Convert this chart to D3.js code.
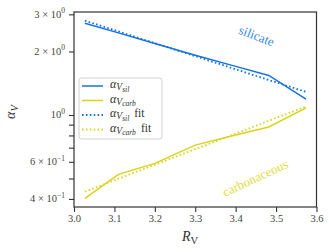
<!DOCTYPE html>
<html><head><meta charset="utf-8">
<script src="https://cdn.jsdelivr.net/npm/d3@7"></script>
<style>body{margin:0;background:#fff}svg{display:block}</style>
</head><body>
<svg id="c" width="329" height="252" font-family="Liberation Serif"></svg>
<script>
const RV = [3.027, 3.11, 3.2, 3.3, 3.4, 3.482, 3.574];
const silicate = [2.72, 2.45, 2.18, 1.92, 1.70, 1.54, 1.19];
const silicateFit = [2.80, 2.49, 2.19, 1.90, 1.647, 1.465, 1.287];
const carbon = [0.403, 0.523, 0.590, 0.72, 0.803, 0.877, 1.08];
const carbonFit = [0.433, 0.499, 0.581, 0.689, 0.816, 0.939, 1.096];
const xTicks = [3.0, 3.1, 3.2, 3.3, 3.4, 3.5, 3.6];
const yMinorTicks = [0.4, 0.5, 0.6, 0.7, 0.8, 0.9, 2, 3];
const yMajorTicks = [1];
const yLabels = [[3, "3", "0"], [2, "2", "0"], [1, null, "0"], [0.6, "6", "−1"], [0.4, "4", "−1"]];

const BLUE = "#1472e2", YEL = "#d9d31c";
const FONT = "Liberation Serif";
const L = 74, R = 316.5, T = 12, B = 207;
const svg = d3.select("#c");
const x = d3.scaleLinear().domain([3.0, 3.6]).range([L, R]);
const y = d3.scaleLog().domain([0.3664, 3.077]).range([B, T]);

const line = d3.line().x(d => x(d[0])).y(d => y(d[1]));
function series(vals, color, dotted) {
  svg.append("path").datum(RV.map((r, i) => [r, vals[i]]))
    .attr("d", line).attr("fill", "none").attr("stroke", color)
    .attr("stroke-width", dotted ? 1.8 : 1.5)
    .attr("stroke-dasharray", dotted ? "1.6,2.3" : null);
}
series(silicate, BLUE, false);
series(carbon, YEL, false);
series(silicateFit, BLUE, true);
series(carbonFit, YEL, true);

svg.append("rect").attr("x", L).attr("y", T).attr("width", R - L).attr("height", B - T)
  .attr("fill", "none").attr("stroke", "#333").attr("stroke-width", 1.2);

const gx = svg.append("g").attr("transform", `translate(0,${B})`)
  .call(d3.axisBottom(x).tickValues(xTicks).tickFormat(d3.format(".1f")).tickSize(5).tickPadding(3));
gx.attr("font-family", FONT);
gx.select(".domain").remove();
gx.selectAll("line").attr("stroke", "#333").attr("stroke-width", 1.1);
gx.selectAll("text").attr("font-size", 10.5).attr("fill", "#444").attr("font-family", FONT);

const gy = svg.append("g").attr("transform", `translate(${L},0)`)
  .call(d3.axisLeft(y).tickValues(yMinorTicks.concat(yMajorTicks)).tickFormat("").tickSize(5));
gy.select(".domain").remove();
gy.selectAll("line").attr("stroke", "#333").attr("stroke-width", 1.1);

function txt(sel) { return sel.append("text").attr("font-family", FONT); }

yLabels.forEach(([v, m, e]) => {
  const t = txt(svg).attr("x", 65).attr("y", y(v) + 3.5).attr("text-anchor", "end")
    .attr("font-size", 10.5).attr("fill", "#444");
  if (m) { t.append("tspan").text(m + " × 10"); } else { t.append("tspan").text("10"); }
  t.append("tspan").attr("dy", -4.5).attr("font-size", 7.5).text(e);
});

const xl = txt(svg).attr("x", 190).attr("y", 241).attr("text-anchor", "middle")
  .attr("font-size", 14).attr("fill", "#333");
xl.append("tspan").attr("font-style", "italic").text("R");
xl.append("tspan").attr("dy", 3).attr("font-size", 10.5).text("V");

const yl = txt(svg).attr("transform", "translate(15,112) rotate(-90)")
  .attr("text-anchor", "middle").attr("font-size", 14).attr("fill", "#333");
yl.append("tspan").attr("font-style", "italic").text("α");
yl.append("tspan").attr("dy", 3).attr("font-size", 10.5).attr("font-style", "italic").text("V");

const lg = svg.append("g");
lg.append("rect").attr("x", 79).attr("y", 78).attr("width", 83).attr("height", 61)
  .attr("rx", 2.5).attr("fill", "#fff").attr("fill-opacity", 0.85)
  .attr("stroke", "#ccc").attr("stroke-width", 0.9);
const entries = [
  [BLUE, false, "sil", false], [YEL, false, "carb", false],
  [BLUE, true, "sil", true], [YEL, true, "carb", true]
];
entries.forEach(([c, dotted, sub, fit], i) => {
  const yy = 86 + i * 14.5;
  lg.append("line").attr("x1", 82).attr("x2", 103).attr("y1", yy).attr("y2", yy)
    .attr("stroke", c).attr("stroke-width", dotted ? 1.8 : 1.5)
    .attr("stroke-dasharray", dotted ? "1.6,2.3" : null);
  const t = txt(lg).attr("x", 110).attr("y", yy + 2).attr("font-size", 12).attr("fill", "#333");
  t.append("tspan").attr("font-style", "italic").text("α");
  t.append("tspan").attr("dy", 2).attr("font-size", 9.5).attr("font-style", "italic").text("V");
  t.append("tspan").attr("dy", 1.8).attr("font-size", 7.5).attr("font-style", "italic").text(sub);
  if (fit) t.append("tspan").attr("dy", -3.8).attr("font-size", 11.5).attr("dx", 5).text("fit");
});

txt(svg).attr("transform", "translate(255,40) rotate(21)").attr("text-anchor", "middle")
  .attr("font-size", 13).attr("fill", "#3a8ae8").text("silicate");
txt(svg).attr("transform", "translate(257,182) rotate(-25)").attr("text-anchor", "middle")
  .attr("font-size", 13).attr("fill", "#e0dc3a").text("carbonaceous");
</script>
</body></html>
